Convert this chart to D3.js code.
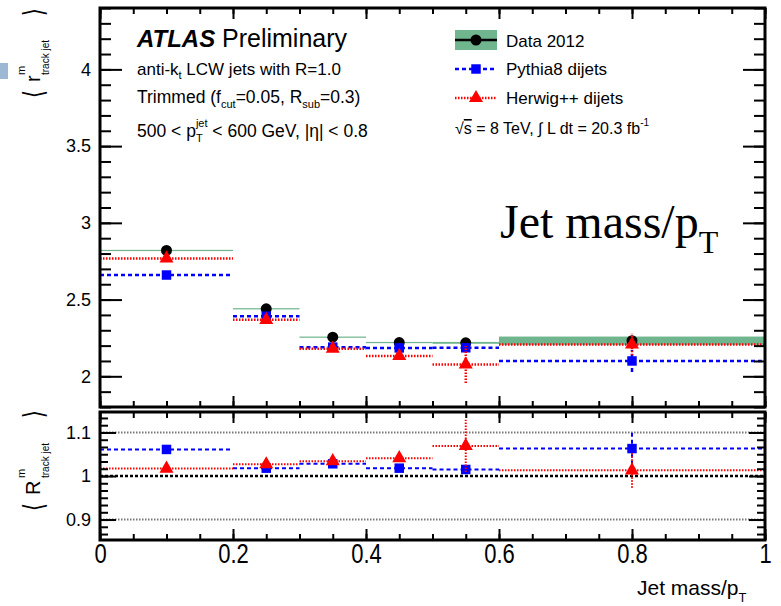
<!DOCTYPE html>
<html>
<head>
<meta charset="utf-8">
<script src="https://cdn.jsdelivr.net/npm/d3@7"></script>
<style>
  body { margin: 0; background: #fff; }
  svg text { font-family: "Liberation Sans", Arial, sans-serif; fill: #000; white-space: pre; }
</style>
</head>
<body>
<svg id="drawing"></svg>
<script>
// bins in jet mass / pT
const binLo = [0.0, 0.2, 0.3, 0.4, 0.5, 0.6];
const binHi = [0.2, 0.3, 0.4, 0.5, 0.6, 1.0];
const binMid = [0.1, 0.25, 0.35, 0.45, 0.55, 0.8];

// top panel: <r^m_track jet>
const dataVal = [2.82, 2.44, 2.255, 2.22, 2.218, 2.232];
const dataSyst = [0.004, 0.004, 0.004, 0.004, 0.006, 0.027];
const pythiaVal = [2.66, 2.392, 2.19, 2.185, 2.186, 2.10];
const pythiaErr = [0.01, 0.01, 0.01, 0.015, 0.02, 0.072];
const herwigVal = [2.768, 2.368, 2.18, 2.133, 2.077, 2.208];
const herwigErr = [0.01, 0.012, 0.01, 0.015, 0.12, 0.07];

// bottom panel: <R^m_track jet>
const ratioPythia = [1.061, 1.018, 1.028, 1.018, 1.015, 1.063];
const ratioPythiaErr = [0.004, 0.005, 0.005, 0.007, 0.009, 0.037];
const ratioHerwig = [1.017, 1.027, 1.034, 1.041, 1.069, 1.013];
const ratioHerwigErr = [0.004, 0.005, 0.005, 0.008, 0.06, 0.04];

const topTicks = [2, 2.5, 3, 3.5, 4];
const ratioTicks = [0.9, 1, 1.1];
const xTicks = [0, 0.2, 0.4, 0.6, 0.8, 1];
const ratioRefLines = [0.9, 1.0, 1.1];

const W = 781, H = 606;
const svg = d3.select('#drawing').attr('width', W).attr('height', H);

const x = d3.scaleLinear().domain([0, 1]).range([100, 765]);
const yTop = d3.scaleLinear().domain([1.8, 4.4]).range([407, 8]);
const yRat = d3.scaleLinear().domain([0.853, 1.147]).range([540, 412]);

const BLUE = '#0000ff', RED = '#ff0000', GREEN = '#6fb68e';

// little artifact square at the left edge
svg.append('rect').attr('x', 0).attr('y', 63).attr('width', 8).attr('height', 16)
    .attr('fill', '#9db8d4');

function styleTicks(sel, len, sign, dir) {
    sel.selectAll('.tick line')
        .attr('x1', 0).attr('y1', 0)
        .attr(dir === 'h' ? 'x2' : 'y2', sign * len)
        .attr(dir === 'h' ? 'y2' : 'x2', 0)
        .attr('stroke', '#000').attr('stroke-width', 2);
}

function frameAxes(yscale, y0, y1, majors, minorStep, majLen, minLen, xMaj, xMin, showX) {
    const g = svg.append('g');
    const ymin = yscale.domain()[0], ymax = yscale.domain()[1];
    const minors = d3.range(Math.ceil(ymin / minorStep) * minorStep, ymax, minorStep);
    const xMinors = d3.range(0, 1.0001, 0.05);
    styleTicks(g.append('g').attr('transform', 'translate(100,0)')
        .call(d3.axisLeft(yscale).tickValues(minors).tickSizeInner(-minLen).tickSizeOuter(0).tickFormat('')), minLen, 1, 'h');
    styleTicks(g.append('g').attr('transform', 'translate(765,0)')
        .call(d3.axisRight(yscale).tickValues(minors).tickSizeInner(-minLen).tickSizeOuter(0).tickFormat('')), minLen, -1, 'h');
    const yl = g.append('g').attr('transform', 'translate(100,0)')
        .call(d3.axisLeft(yscale).tickValues(majors).tickSizeInner(-majLen).tickSizeOuter(0)
            .tickPadding(9).tickFormat(d3.format('')));
    yl.selectAll('text').style('font-size', '18px');
    styleTicks(yl, majLen, 1, 'h');
    styleTicks(g.append('g').attr('transform', 'translate(765,0)')
        .call(d3.axisRight(yscale).tickValues(majors).tickSizeInner(-majLen).tickSizeOuter(0).tickFormat('')), majLen, -1, 'h');
    styleTicks(g.append('g').attr('transform', `translate(0,${y1})`)
        .call(d3.axisBottom(x).tickValues(xMinors).tickSizeInner(-xMin).tickSizeOuter(0).tickFormat('')), xMin, -1, 'v');
    styleTicks(g.append('g').attr('transform', `translate(0,${y0})`)
        .call(d3.axisTop(x).tickValues(xMinors).tickSizeInner(-xMin).tickSizeOuter(0).tickFormat('')), xMin, 1, 'v');
    styleTicks(g.append('g').attr('transform', `translate(0,${y0})`)
        .call(d3.axisTop(x).tickValues(xTicks).tickSizeInner(-xMaj).tickSizeOuter(0).tickFormat('')), xMaj, 1, 'v');
    const xb = g.append('g').attr('transform', `translate(0,${y1})`)
        .call(d3.axisBottom(x).tickValues(xTicks).tickSizeInner(-xMaj).tickSizeOuter(0)
            .tickFormat(showX ? d3.format('') : ''));
    styleTicks(xb, xMaj, -1, 'v');
    if (showX) {
        xb.selectAll('text').attr('y', 0).attr('dy', 0)
            .attr('transform', 'translate(0,23) scale(1,1.25)')
            .style('font-size', '22px');
    }
    g.selectAll('.domain').remove();
    g.append('rect').attr('x', 100).attr('y', y0).attr('width', 665).attr('height', y1 - y0)
        .attr('fill', 'none').attr('stroke', '#000').attr('stroke-width', 3);
    return g;
}

// ---------- top panel ----------
const topG = svg.append('g');
// data systematic band
topG.selectAll('rect.band').data(dataVal).enter().append('rect')
    .attr('x', (d, i) => x(binLo[i]))
    .attr('width', (d, i) => x(binHi[i]) - x(binLo[i]))
    .attr('y', (d, i) => yTop(d + dataSyst[i]))
    .attr('height', (d, i) => Math.max(1.2, yTop(d - dataSyst[i]) - yTop(d + dataSyst[i])))
    .attr('fill', GREEN);

function series(g, ys, vals, errs, color, dash, width, marker) {
    vals.forEach((v, i) => {
        g.append('line').attr('x1', x(binLo[i])).attr('x2', x(binHi[i]))
            .attr('y1', ys(v)).attr('y2', ys(v))
            .attr('stroke', color).attr('stroke-width', width).attr('stroke-dasharray', dash);
        g.append('line').attr('x1', x(binMid[i])).attr('x2', x(binMid[i]))
            .attr('y1', ys(v - errs[i])).attr('y2', ys(v + errs[i]))
            .attr('stroke', color).attr('stroke-width', width).attr('stroke-dasharray', dash);
    });
    g.selectAll(null).data(vals).enter().append('path')
        .attr('transform', (d, i) => `translate(${x(binMid[i])},${ys(d)})`)
        .attr('d', d3.symbol().type(marker).size(marker === d3.symbolTriangle ? 85 : 90))
        .attr('fill', color);
}

topG.selectAll('circle.data').data(dataVal).enter().append('circle')
    .attr('cx', (d, i) => x(binMid[i])).attr('cy', d => yTop(d)).attr('r', 5.5).attr('fill', '#000');
series(topG, yTop, pythiaVal, pythiaErr, BLUE, '4,3', 2.5, d3.symbolSquare);
series(topG, yTop, herwigVal, herwigErr, RED, '1.5,1.5', 2.5, d3.symbolTriangle);

frameAxes(yTop, 8, 407, topTicks, 0.1, 22, 11, 11, 6, false);

// ---------- ratio panel ----------
const rat = svg.append('g');
rat.selectAll('line.ref').data(ratioRefLines).enter().append('line')
    .attr('x1', x(0)).attr('x2', x(1))
    .attr('y1', d => yRat(d)).attr('y2', d => yRat(d))
    .attr('stroke', d => d === 1 ? '#000' : '#777')
    .attr('stroke-width', d => d === 1 ? 2.5 : 2)
    .attr('stroke-dasharray', d => d === 1 ? '3,2' : '1.5,1.5');
series(rat, yRat, ratioPythia, ratioPythiaErr, BLUE, '4,3', 2, d3.symbolSquare);
series(rat, yRat, ratioHerwig, ratioHerwigErr, RED, '1.5,1.5', 2, d3.symbolTriangle);

frameAxes(yRat, 412, 540, ratioTicks, 0.1 / 6, 16, 8, 11, 6, true);

// ---------- texts ----------
function rich(g, x0, y0, segs, fs, family) {
    let cx = x0, prevX = x0;
    segs.forEach(s => {
        const t = g.append('text')
            .attr('x', s.stack ? prevX : cx)
            .attr('y', y0 + (s.dy || 0))
            .style('font-size', (s.fs || fs) + 'px')
            .style('text-decoration', s.over ? 'overline' : null)
            .text(s.t);
        if (family) t.style('font-family', family);
        const w = t.node().getComputedTextLength();
        if (s.stack) { cx = Math.max(cx, prevX + w); }
        else { prevX = cx; cx += w; }
    });
    return cx;
}

const lab = svg.append('g');
lab.append('text').attr('x', 137).attr('y', 47).style('font-size', '24px')
    .style('font-weight', 'bold').style('font-style', 'italic').text('ATLAS');
lab.append('text').attr('x', 222).attr('y', 47).style('font-size', '25px').text('Preliminary');
rich(lab, 137, 75, [{t: 'anti-k'}, {t: 't', fs: 11, dy: 4}, {t: ' LCW jets with R=1.0'}], 17);
rich(lab, 137, 103, [{t: 'Trimmed (f'}, {t: 'cut', fs: 11, dy: 5}, {t: '=0.05, R'}, {t: 'sub', fs: 11, dy: 5}, {t: '=0.3)'}], 17.5);
rich(lab, 137, 137, [{t: '500 < p'}, {t: 'jet', fs: 11, dy: -10}, {t: 'T', fs: 11, dy: 5, stack: true},
    {t: ' < 600 GeV, |η| < 0.8'}], 17.5);

// legend
const leg = svg.append('g');
leg.append('rect').attr('x', 455).attr('y', 30).attr('width', 42).attr('height', 20).attr('fill', GREEN);
leg.append('line').attr('x1', 455).attr('x2', 497).attr('y1', 40).attr('y2', 40)
    .attr('stroke', '#000').attr('stroke-width', 2.5);
leg.append('circle').attr('cx', 476).attr('cy', 40).attr('r', 5.5).attr('fill', '#000');
leg.append('line').attr('x1', 455).attr('x2', 497).attr('y1', 69).attr('y2', 69)
    .attr('stroke', BLUE).attr('stroke-width', 2.5).attr('stroke-dasharray', '4,3');
leg.append('path').attr('transform', 'translate(476,69)').attr('d', d3.symbol().type(d3.symbolSquare).size(90)).attr('fill', BLUE);
leg.append('line').attr('x1', 455).attr('x2', 497).attr('y1', 98).attr('y2', 98)
    .attr('stroke', RED).attr('stroke-width', 2.5).attr('stroke-dasharray', '1.5,1.5');
leg.append('path').attr('transform', 'translate(476,98)').attr('d', d3.symbol().type(d3.symbolTriangle).size(85)).attr('fill', RED);
leg.append('text').attr('x', 506).attr('y', 47).style('font-size', '17px').text('Data 2012');
leg.append('text').attr('x', 506).attr('y', 75).style('font-size', '17px').text('Pythia8 dijets');
leg.append('text').attr('x', 506).attr('y', 104).style('font-size', '17px').text('Herwig++ dijets');
rich(leg, 455, 134, [{t: '√'}, {t: 's', over: true}, {t: ' = 8 TeV, ∫ L dt = 20.3 fb'}, {t: '-1', fs: 10, dy: -8}], 16);

// big in-plot label
rich(svg.append('g'), 500, 238, [{t: 'Jet mass/p'}, {t: 'T', fs: 32, dy: 15}], 48, '"Liberation Serif", "Times New Roman", serif');

// x axis title
rich(svg.append('g'), 637, 595, [{t: 'Jet mass/p'}, {t: 'T', fs: 13, dy: 7}], 21);

// y axis titles (rotated)
function yTitle(cy) {
    return svg.append('g').attr('transform', `translate(40,${cy}) rotate(-90)`);
}
function chevron(g, lx, ch) {
    g.append('text').attr('transform', `translate(${lx},3) scale(1,1.4)`)
        .style('font-size', '20px').style('font-family', '"DejaVu Sans", sans-serif').text(ch);
}
const yt1 = yTitle(100);
chevron(yt1, 2, '⟨');
yt1.append('text').attr('x', 18).attr('y', 0).style('font-size', '20px').text('r');
yt1.append('text').attr('x', 25).attr('y', -15).style('font-size', '11px').text('m');
yt1.append('text').attr('x', 25).attr('y', 9).style('font-size', '10px').text('track jet');
chevron(yt1, 84, '⟩');

const yt2 = yTitle(520);
chevron(yt2, 9, '⟨');
yt2.append('text').attr('x', 25).attr('y', 0).style('font-size', '20px').text('R');
yt2.append('text').attr('x', 42).attr('y', -15).style('font-size', '11px').text('m');
yt2.append('text').attr('x', 42).attr('y', 9).style('font-size', '10px').text('track jet');
chevron(yt2, 102, '⟩');
</script>
</body>
</html>
